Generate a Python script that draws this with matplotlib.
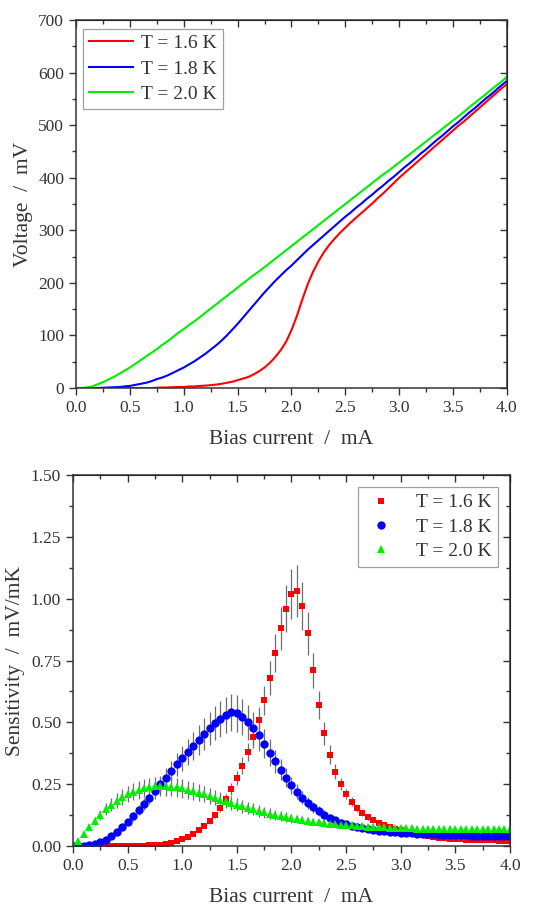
import numpy as np
import matplotlib
matplotlib.use("Agg")
import matplotlib.pyplot as plt
from matplotlib.ticker import MultipleLocator, FormatStrFormatter

plt.rcParams['font.family'] = ['Liberation Serif', 'DejaVu Serif']
plt.rcParams['text.color'] = '#333333'
plt.rcParams['axes.labelcolor'] = '#333333'
plt.rcParams['xtick.color'] = '#333333'
plt.rcParams['ytick.color'] = '#333333'

labels = ['T = 1.6 K', 'T = 1.8 K', 'T = 2.0 K']
colors = ['#ff0000', '#0000ff', '#00ee00']

# ---- top: V-I curves, bias current 0..4 mA step 0.05
iv_current = np.linspace(0, 4, 81)
v_16 = [0, 0, 0, 0, 0, 0, 0, 0, 0, 0,
        0, 0, 0, 0, 0, 0.5, 1, 1, 1.5, 2,
        2, 3, 3, 4, 4.5, 5.5, 6.5, 8, 10, 12,
        15, 18, 21, 26, 32, 39, 48, 59, 72, 88,
        110, 137, 168, 197, 221, 241, 258, 272, 284, 295,
        305, 315, 324, 333, 342, 351, 361, 370, 380, 390,
        400, 409, 418, 427, 436, 445, 454, 463, 472, 481,
        490, 499, 507, 516, 525, 534, 543, 552, 561, 570, 578]
v_18 = [0, 0, 0, 0, 0, 0.5, 1, 1.5, 2, 3,
        4, 6, 8, 10, 13, 17, 20, 24, 29, 34,
        39, 45, 51, 58, 65, 73, 81, 90, 100, 111,
        122, 134, 146, 158, 170, 182, 193, 204, 214, 224,
        233, 243, 253, 263, 272, 281, 290, 299, 308, 317,
        326, 334, 343, 351, 360, 368, 377, 385, 394, 402,
        411, 420, 428, 437, 446, 454, 463, 472, 480, 489,
        498, 506, 515, 524, 532, 541, 550, 558, 567, 576, 584]
v_20 = [0, 0, 1, 3, 7, 11, 16, 21, 27, 33,
        39, 46, 53, 60, 67, 74, 82, 89, 97, 105,
        112, 120, 127, 135, 143, 151, 159, 167, 175, 183,
        191, 199, 207, 215, 222, 230, 238, 246, 254, 262,
        270, 278, 286, 294, 302, 310, 318, 326, 334, 342,
        350, 358, 366, 374, 382, 390, 398, 406, 413, 421,
        429, 437, 445, 453, 461, 469, 477, 485, 493, 501,
        509, 517, 525, 534, 542, 550, 558, 567, 575, 583, 592]

# ---- bottom: sensitivity, bias current 0..4 mA step 0.05
s_current = np.linspace(0, 4, 81)
s_16 = [0, 0, 0, 0, 0, 0, 0, 0.001, 0.001, 0.001,
        0.001, 0.001, 0.002, 0.002, 0.003, 0.004, 0.006, 0.009, 0.014, 0.020,
        0.028, 0.038, 0.050, 0.064, 0.080, 0.100, 0.125, 0.155, 0.190, 0.230,
        0.275, 0.325, 0.380, 0.440, 0.510, 0.590, 0.680, 0.780, 0.880, 0.960,
        1.020, 1.030, 0.970, 0.860, 0.710, 0.570, 0.455, 0.370, 0.300, 0.250,
        0.210, 0.180, 0.155, 0.135, 0.118, 0.104, 0.093, 0.084, 0.076, 0.069,
        0.063, 0.058, 0.053, 0.048, 0.044, 0.040, 0.037, 0.034, 0.032, 0.030,
        0.028, 0.027, 0.026, 0.025, 0.024, 0.024, 0.023, 0.023, 0.022, 0.022, 0.022]
e_16 = [0, 0, 0, 0, 0, 0, 0, 0.001, 0.001, 0.001,
        0.001, 0.001, 0.001, 0.001, 0.001, 0.001, 0.001, 0.001, 0.002, 0.002,
        0.003, 0.004, 0.005, 0.006, 0.008, 0.010, 0.013, 0.016, 0.019, 0.023,
        0.028, 0.033, 0.038, 0.044, 0.051, 0.059, 0.068, 0.078, 0.088, 0.096,
        0.102, 0.105, 0.097, 0.086, 0.071, 0.057, 0.046, 0.037, 0.030, 0.025,
        0.021, 0.018, 0.016, 0.014, 0.012, 0.010, 0.009, 0.008, 0.008, 0.007,
        0.006, 0.006, 0.005, 0.005, 0.004, 0.004, 0.004, 0.003, 0.003, 0.003,
        0.003, 0.003, 0.003, 0.003, 0.003, 0.003, 0.003, 0.003, 0.003, 0.003, 0.003]
s_18 = [0.000, 0.001, 0.002, 0.004, 0.008, 0.015, 0.025, 0.040, 0.056, 0.075,
        0.096, 0.120, 0.145, 0.170, 0.196, 0.222, 0.249, 0.276, 0.303, 0.330,
        0.355, 0.380, 0.405, 0.430, 0.454, 0.476, 0.496, 0.514, 0.530, 0.540,
        0.536, 0.522, 0.500, 0.476, 0.448, 0.414, 0.378, 0.342, 0.308, 0.276,
        0.246, 0.220, 0.196, 0.175, 0.157, 0.141, 0.127, 0.115, 0.104, 0.095,
        0.088, 0.082, 0.077, 0.072, 0.068, 0.065, 0.062, 0.060, 0.058, 0.056,
        0.054, 0.053, 0.051, 0.050, 0.049, 0.048, 0.047, 0.046, 0.045, 0.044,
        0.044, 0.043, 0.043, 0.042, 0.042, 0.042, 0.041, 0.041, 0.041, 0.040, 0.040]
e_18 = [0, 0, 0.001, 0.001, 0.001, 0.002, 0.004, 0.006, 0.008, 0.011,
        0.013, 0.017, 0.020, 0.024, 0.027, 0.031, 0.035, 0.039, 0.042, 0.046,
        0.050, 0.053, 0.057, 0.060, 0.064, 0.067, 0.069, 0.072, 0.074, 0.076,
        0.075, 0.073, 0.070, 0.067, 0.063, 0.058, 0.053, 0.048, 0.043, 0.039,
        0.034, 0.031, 0.027, 0.025, 0.022, 0.020, 0.018, 0.016, 0.015, 0.013,
        0.012, 0.011, 0.011, 0.010, 0.010, 0.009, 0.009, 0.008, 0.008, 0.008,
        0.008, 0.007, 0.007, 0.007, 0.007, 0.007, 0.007, 0.007, 0.007, 0.007,
        0.006, 0.006, 0.006, 0.006, 0.006, 0.006, 0.006, 0.006, 0.006, 0.006, 0.006]
s_20 = [0.000, 0.022, 0.048, 0.076, 0.102, 0.126, 0.148, 0.167, 0.184, 0.198,
        0.210, 0.220, 0.228, 0.234, 0.238, 0.241, 0.242, 0.242, 0.240, 0.237,
        0.233, 0.228, 0.222, 0.216, 0.209, 0.202, 0.195, 0.188, 0.181, 0.174,
        0.167, 0.160, 0.154, 0.148, 0.142, 0.136, 0.131, 0.126, 0.121, 0.117,
        0.113, 0.109, 0.105, 0.102, 0.099, 0.096, 0.093, 0.091, 0.089, 0.087,
        0.085, 0.083, 0.081, 0.080, 0.078, 0.077, 0.076, 0.075, 0.074, 0.073,
        0.072, 0.071, 0.071, 0.070, 0.070, 0.069, 0.069, 0.068, 0.068, 0.068,
        0.067, 0.067, 0.067, 0.067, 0.067, 0.067, 0.067, 0.067, 0.067, 0.067, 0.067]
e_20 = [0, 0.004, 0.008, 0.012, 0.016, 0.020, 0.024, 0.027, 0.029, 0.032,
        0.034, 0.035, 0.036, 0.037, 0.038, 0.039, 0.039, 0.039, 0.038, 0.038,
        0.037, 0.036, 0.036, 0.035, 0.033, 0.032, 0.031, 0.030, 0.029, 0.028,
        0.027, 0.026, 0.025, 0.024, 0.023, 0.022, 0.021, 0.020, 0.019, 0.019,
        0.018, 0.017, 0.017, 0.016, 0.016, 0.015, 0.015, 0.015, 0.014, 0.014,
        0.014, 0.013, 0.013, 0.013, 0.013, 0.012, 0.012, 0.012, 0.012, 0.012,
        0.012, 0.011, 0.011, 0.011, 0.011, 0.011, 0.011, 0.011, 0.011, 0.011,
        0.011, 0.011, 0.011, 0.011, 0.011, 0.011, 0.011, 0.011, 0.011, 0.011, 0.011]


def style_axes(ax, xminor, yminor):
    ax.xaxis.set_major_locator(MultipleLocator(0.5))
    ax.xaxis.set_minor_locator(MultipleLocator(xminor))
    ax.yaxis.set_minor_locator(MultipleLocator(yminor))
    ax.xaxis.set_major_formatter(FormatStrFormatter('%.1f'))
    ax.tick_params(which='major', direction='out', length=5, width=1, labelsize=12.5)
    ax.tick_params(which='minor', direction='out', length=3, width=1)
    for s in ax.spines.values():
        s.set_linewidth(1.1)
        s.set_color('#333333')
    # mirrored ticks pointing inwards on top and right
    top = ax.secondary_xaxis('top')
    top.xaxis.set_major_locator(MultipleLocator(0.5))
    top.xaxis.set_minor_locator(MultipleLocator(xminor))
    top.tick_params(which='major', direction='in', length=5, width=1, labeltop=False)
    top.tick_params(which='minor', direction='in', length=3, width=1)
    right = ax.secondary_yaxis('right')
    right.yaxis.set_major_locator(ax.yaxis.get_major_locator())
    right.yaxis.set_minor_locator(MultipleLocator(yminor))
    right.tick_params(which='major', direction='in', length=5, width=1, labelright=False)
    right.tick_params(which='minor', direction='in', length=3, width=1)


fig = plt.figure(figsize=(5.51, 9.10), dpi=100)

# ---------------- top panel
ax1 = fig.add_axes([0.138, 0.5736, 0.782, 0.4044])
for v, c, l in zip([v_16, v_18, v_20], colors, labels):
    ax1.plot(iv_current, v, color=c, lw=1.5, label=l)
ax1.set_xlim(0, 4)
ax1.set_ylim(0, 700)
ax1.yaxis.set_major_locator(MultipleLocator(100))
style_axes(ax1, 0.25, 50)
ax1.set_xlabel('Bias current  /  mA', fontsize=15.5, labelpad=10)
ax1.set_ylabel('Voltage  /  mV', fontsize=15.5, labelpad=4)
leg1 = ax1.legend(loc='upper left', fontsize=14, handlelength=2.3, handletextpad=0.4,
                  borderpad=0.3, labelspacing=0.4, fancybox=False, borderaxespad=0,
                  edgecolor='#888888', bbox_to_anchor=(0.016, 0.976))
leg1.get_frame().set_linewidth(0.9)

# ---------------- bottom panel
ax2 = fig.add_axes([0.1325, 0.0703, 0.793, 0.4077])
markers = ['s', 'o', '^']
msizes = [5.0, 6.0, 5.6]
for s, e, c, m, ms, l in zip([s_16, s_18, s_20], [e_16, e_18, e_20], colors, markers, msizes, labels):
    ax2.errorbar(s_current, s, yerr=e, fmt=m, color=c, ms=ms, mec=c, mew=0,
                 ecolor='#6e6e6e', elinewidth=0.9, capsize=3.0, capthick=0.9, label=l)
ax2.set_xlim(0, 4)
ax2.set_ylim(0, 1.5)
ax2.yaxis.set_major_locator(MultipleLocator(0.25))
ax2.yaxis.set_major_formatter(FormatStrFormatter('%.2f'))
style_axes(ax2, 0.25, 0.125)
ax2.set_xlabel('Bias current  /  mA', fontsize=15.5, labelpad=10)
ax2.set_ylabel('Sensitivity  /  mV/mK', fontsize=15.5, labelpad=4)
handles, hl = ax2.get_legend_handles_labels()
handles = [h[0] for h in handles]
leg2 = ax2.legend(handles, hl, loc='upper right', fontsize=14, handlelength=1.6,
                  handletextpad=1.0, borderpad=0.35, labelspacing=0.35, fancybox=False,
                  borderaxespad=0, edgecolor='#888888', bbox_to_anchor=(0.9725, 0.968))
leg2.get_frame().set_linewidth(0.9)

fig.savefig('out.png', dpi=100)
